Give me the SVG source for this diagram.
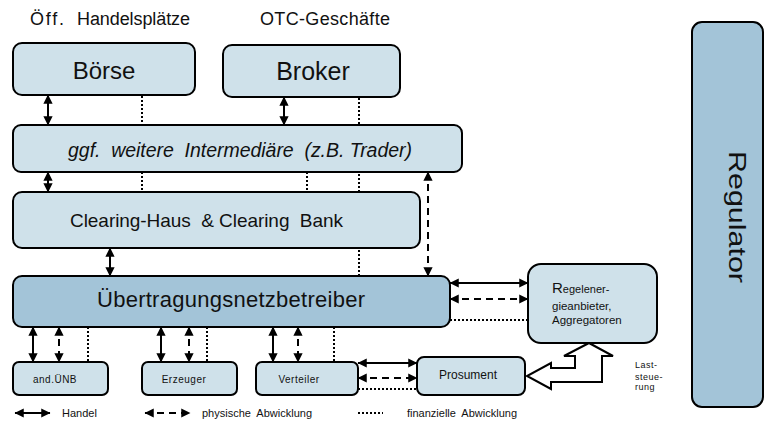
<svg xmlns="http://www.w3.org/2000/svg" width="765" height="424" viewBox="0 0 765 424">
<defs>
<marker id="ah" viewBox="0 0 10 10" refX="9.5" refY="5" markerWidth="5" markerHeight="4.6" orient="auto-start-reverse" markerUnits="strokeWidth">
<path d="M0,0 L10,5 L0,10 z" fill="#000"/>
</marker>
<style>
.box{fill:#cfe1ea;stroke:#000;stroke-width:2}
.dark{fill:#a3c4d8;stroke:#000;stroke-width:2}
.t{font-family:"Liberation Sans",Arial,sans-serif;fill:#111}
.solid{stroke:#000;stroke-width:2;fill:none;marker-start:url(#ah);marker-end:url(#ah)}
.dash{stroke:#000;stroke-width:2;fill:none;stroke-dasharray:7 5;marker-start:url(#ah);marker-end:url(#ah)}
.dot{stroke:#000;stroke-width:2;fill:none;stroke-dasharray:2 2}
</style>
</defs>
<rect width="765" height="424" fill="#fff"/>

<text class="t" x="30" y="25" font-size="18"><tspan textLength="34" lengthAdjust="spacing">Öff.</tspan><tspan x="77" textLength="113" lengthAdjust="spacing">Handelsplätze</tspan></text>
<text class="t" x="260" y="25" font-size="18" textLength="130" lengthAdjust="spacing">OTC-Geschäfte</text>

<g id="connectors">
<line class="dot" x1="142" y1="96" x2="142" y2="192"/>
<line class="dot" x1="359" y1="98" x2="359" y2="276"/>
<line class="dot" x1="307" y1="172" x2="307" y2="192"/>
<line class="solid" x1="48" y1="95" x2="48" y2="125"/>
<line class="solid" x1="284" y1="97" x2="284" y2="125"/>
<line class="solid" x1="48" y1="172" x2="48" y2="192"/>
<line class="solid" x1="110" y1="248" x2="110" y2="276"/>
<line class="dash" x1="428" y1="172" x2="428" y2="276" stroke-dasharray="8 5"/>
<line class="solid" x1="450" y1="283" x2="528" y2="283"/>
<line class="dash" x1="450" y1="299" x2="528" y2="299"/>
<line class="dot" x1="450" y1="320" x2="528" y2="320"/>
<line class="solid" x1="33" y1="327" x2="33" y2="362"/>
<line class="dash" x1="59" y1="327" x2="59" y2="362"/>
<line class="dot" x1="88" y1="327" x2="88" y2="362"/>
<line class="solid" x1="161" y1="327" x2="161" y2="362"/>
<line class="dash" x1="189" y1="327" x2="189" y2="362"/>
<line class="dot" x1="207" y1="327" x2="207" y2="362"/>
<line class="solid" x1="273" y1="327" x2="273" y2="362"/>
<line class="dash" x1="298" y1="327" x2="298" y2="362"/>
<line class="dot" x1="334" y1="327" x2="334" y2="362"/>
<line class="solid" x1="358" y1="363" x2="417" y2="363"/>
<line class="dash" x1="358" y1="378" x2="417" y2="378"/>
<line class="dot" x1="358" y1="389" x2="417" y2="389"/>
<polygon id="laststeuerung-arrow" points="589,343 613,356 602,356 602,382 551,382 551,389 527,376 551,363 551,368 575,368 575,356 564,356" fill="#fff" stroke="#000" stroke-width="2" stroke-linejoin="miter"/>
</g>

<g id="boerse">
<rect class="box" x="13" y="43" width="182" height="52" rx="9"/>
<text class="t" x="104" y="79" font-size="24" text-anchor="middle">Börse</text>
</g>
<g id="broker">
<rect class="box" x="223" y="45" width="177" height="52" rx="9"/>
<text class="t" x="313" y="80" font-size="25" text-anchor="middle">Broker</text>
</g>
<g id="intermediaere">
<rect class="box" x="13" y="125" width="449" height="47" rx="8"/>
<text class="t" x="68" y="157" font-size="19.5" font-style="italic" xml:space="preserve" textLength="344" lengthAdjust="spacing">ggf.  weitere  Intermediäre  (z.B. Trader)</text>
</g>
<g id="clearing">
<rect class="box" x="13" y="192" width="407" height="56" rx="9"/>
<text class="t" x="70" y="227" font-size="19" xml:space="preserve" textLength="273" lengthAdjust="spacing">Clearing-Haus  &amp; Clearing  Bank</text>
</g>
<g id="uenb">
<rect class="dark" x="13" y="276" width="437" height="51" rx="9"/>
<text class="t" x="97" y="307" font-size="22" textLength="268" lengthAdjust="spacing">Übertragungsnetzbetreiber</text>
</g>
<g id="regelenergie">
<rect class="box" x="528" y="264" width="129" height="79" rx="13"/>
<text class="t" x="552" y="293"><tspan font-size="15">R</tspan><tspan font-size="11">egelener-</tspan></text>
<text class="t" x="552" y="310" font-size="11.5">gieanbieter,</text>
<text class="t" x="552" y="324" font-size="11.5">Aggregatoren</text>
</g>
<g id="and-uenb">
<rect class="box" x="13" y="362" width="95" height="33" rx="6"/>
<text class="t" x="55" y="383" font-size="10" text-anchor="middle" letter-spacing="0.5">and.ÜNB</text>
</g>
<g id="erzeuger">
<rect class="box" x="142" y="362" width="95" height="33" rx="6"/>
<text class="t" x="184" y="383" font-size="10" text-anchor="middle" letter-spacing="0.5">Erzeuger</text>
</g>
<g id="verteiler">
<rect class="box" x="256" y="362" width="102" height="33" rx="6"/>
<text class="t" x="299" y="383" font-size="10" text-anchor="middle" letter-spacing="0.5">Verteiler</text>
</g>
<g id="prosument">
<rect class="box" x="417" y="357" width="108" height="38" rx="7"/>
<text class="t" x="468" y="379" font-size="12" text-anchor="middle">Prosument</text>
</g>
<g id="regulator">
<rect class="dark" x="692" y="22" width="71" height="385" rx="10"/>
<text class="t" transform="translate(729,217) rotate(90)" font-size="24" text-anchor="middle" textLength="132" lengthAdjust="spacingAndGlyphs">Regulator</text>
</g>

<g id="laststeuerung-label">
<text class="t" x="635" y="368" font-size="9" letter-spacing="0.5">Last-</text>
<text class="t" x="635" y="380" font-size="9" letter-spacing="0.5">steue-</text>
<text class="t" x="635" y="390" font-size="9" letter-spacing="0.5">rung</text>
</g>

<g id="legend">
<line class="solid" x1="15" y1="413" x2="50" y2="413"/>
<text class="t" x="62" y="417" font-size="11">Handel</text>
<line class="dash" x1="145" y1="413" x2="190" y2="413" stroke-dasharray="0 15 13 17"/>
<text class="t" x="202" y="417" font-size="11" word-spacing="3">physische Abwicklung</text>
<line class="dot" x1="358" y1="413" x2="383" y2="413"/>
<text class="t" x="407" y="417" font-size="11" word-spacing="3">finanzielle Abwicklung</text>
</g>
</svg>
